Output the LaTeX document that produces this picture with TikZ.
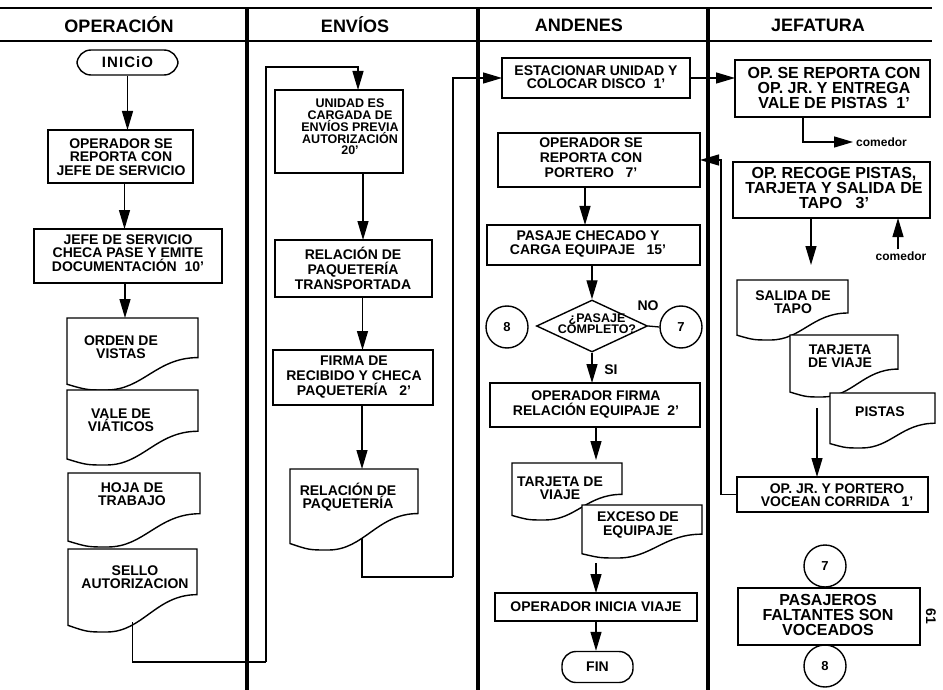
\documentclass[tikz,border=0pt]{standalone}
\usepackage{fontspec}
\setmainfont{Liberation Sans}
\usetikzlibrary{shapes.geometric,arrows.meta,calc}

\tikzset{
  lane/.style={line width=4pt},
  hline/.style={line width=2pt},
  hdr/.style={inner sep=0, font=\bfseries\fontsize{18}{20}\selectfont},
  boxline/.style={draw, line width=1.4pt, inner sep=0, outer sep=0},
  txt/.style={align=center, inner sep=0, font=\bfseries\fontsize{14}{13.3}\selectfont},
  txtl/.style={align=center, inner sep=0, font=\bfseries\fontsize{14}{15}\selectfont},
  ctxt/.style={align=center, inner sep=0, font=\bfseries\fontsize{12.5}{11.8}\selectfont},
  jtxt/.style={align=center, inner sep=0, font=\bfseries\fontsize{16}{15}\selectfont},
  dtxt/.style={align=center, inner sep=0, font=\bfseries\fontsize{12.5}{11}\selectfont},
  lbl/.style={inner sep=0, font=\bfseries\fontsize{14}{14}\selectfont},
  smalltxt/.style={inner sep=0, font=\bfseries\fontsize{12}{12}\selectfont},
  docnode/.style={inner sep=0, outer sep=0},
  docline/.style={draw, fill=white, line width=1.4pt},
  term/.style={draw, line width=1.4pt, inner sep=0, rounded corners=14pt, font=\bfseries\fontsize{14}{14}\selectfont},
  circ/.style={draw, circle, line width=1.4pt, inner sep=0, minimum size=42pt, font=\bfseries\fontsize{13}{13}\selectfont},
  decision/.style={draw, diamond, line width=1.4pt, inner sep=0},
  arr/.style={line width=1.3pt, -{Triangle[length=19pt,width=11pt]}},
  conn/.style={line width=1.3pt}
}

% box: name x0 y0 x1 y1 tx ty text style
\newcommand\bx[9]{%
  \node[boxline, minimum width={(#4-#2)*1pt}, minimum height={(#5-#3)*1pt}] (#1) at ({(#2+#4)/2},{(#3+#5)/2}) {};
  \node[#9] (#1-t) at (#6,#7) {#8};}

% document: name x0 y0 x1 y1 tx ty text style
\newcommand\dc[9]{%
  \node[docnode, minimum width={(#4-#2)*1pt}, minimum height={(#5-#3)*1pt}] (#1) at ({(#2+#4)/2},{(#3+#5)/2}) {};
  \draw[docline] let \p1=(#1.north west), \p2=(#1.south east), \n1={\x2-\x1}, \n2={\y1-\y2} in
    (\x1,\y1) -- (\x2,\y1) -- (\x2,{\y1-0.55*\n2})
    .. controls ({\x2-0.32*\n1},{\y1-0.55*\n2}) and ({\x1+0.58*\n1},\y2) .. ({\x1+0.3*\n1},\y2)
    .. controls ({\x1+0.15*\n1},\y2) .. (\x1,{\y2+0.08*\n2}) -- cycle;
  \node[#9] (#1-t) at (#6,#7) {#8};}

\begin{document}
\begin{tikzpicture}[x=1pt,y=-1pt]
\useasboundingbox (0,0) rectangle (943,690);
\fill[white] (0,0) rectangle (943,690);

% ---- swimlane frame ----
\draw[hline] (0,8) -- (932,8);
\draw[hline] (0,41) -- (932,41);
\draw[lane] (247,8) -- (247,690);
\draw[lane] (478,8) -- (478,690);
\draw[lane] (708,8) -- (708,690);
\node[hdr] (h1) at (119,25) {OPERACIÓN};
\node[hdr] (h2) at (355,25) {ENVÍOS};
\node[hdr] (h3) at (579,25) {ANDENES};
\node[hdr] (h4) at (818,25) {JEFATURA};

% ---- OPERACION ----
\node[term, minimum width=101pt, minimum height=25pt, font=\bfseries\fontsize{15}{15}\selectfont\addfontfeature{LetterSpace=7}] (inicio) at (127.5,62.5) {INICiO};
\bx{opreporta}{48}{130}{193}{183}{121}{157}{OPERADOR SE\\REPORTA CON\\JEFE DE SERVICIO}{txt}
\bx{jefe}{34}{229}{222}{283}{128}{253}{JEFE DE SERVICIO\\CHECA PASE Y EMITE\\DOCUMENTACIÓN~~10'}{txt}
\dc{orden}{67}{318}{198}{390}{121}{347}{ORDEN DE\\VISTAS}{txt}
\dc{vale}{67}{390}{198}{465}{121}{420}{VALE DE\\VIÁTICOS}{txt}
\dc{hoja}{68}{473}{200}{547}{132}{494}{HOJA DE\\TRABAJO}{txt}
\dc{sello}{68}{549}{197}{632}{135}{577}{SELLO\\AUTORIZACION}{txt}

\draw[arr] (inicio.south) -- (inicio.south |- opreporta.north);
\draw[arr] ([xshift=4pt]opreporta.south) -- ([xshift=4pt]opreporta.south |- jefe.north);
\draw[arr] ([xshift=-3pt]jefe.south) -- ([xshift=-3pt]jefe.south |- orden.north);

% ---- ENVIOS ----
\bx{unidad}{275}{90}{403}{173}{350}{127}{UNIDAD ES\\CARGADA DE\\ENVÍOS PREVIA\\AUTORIZACIÓN\\20'}{ctxt}
\bx{relacion}{275}{240}{432}{297}{353}{268}{RELACIÓN DE\\PAQUETERÍA\\TRANSPORTADA}{txtl}
\bx{firma}{273}{350}{433}{405}{354}{377}{FIRMA DE\\RECIBIDO Y CHECA\\PAQUETERÍA~~~2'}{txtl}
\dc{relpaq}{290}{469}{418}{550}{348}{497}{RELACIÓN DE\\PAQUETERÍA}{txt}

\coordinate (lpA) at (266,662);
\coordinate (lpB) at (358,67);
\draw[conn] ([yshift=10pt]sello.south) |- (lpA);
\draw[arr] (lpA) |- (lpB) -- (lpB |- unidad.north);

\draw[arr] ([xshift=24pt]unidad.south) -- ([xshift=24pt]unidad.south |- relacion.north);
\draw[arr] ([xshift=9pt]relacion.south) -- ([xshift=9pt]relacion.south |- firma.north);
\draw[arr] ([xshift=9pt]firma.south) -- ([xshift=9pt]firma.south |- relpaq.north);

% ---- ANDENES ----
\bx{estacionar}{502}{58}{690}{98}{596}{77}{ESTACIONAR UNIDAD Y\\COLOCAR DISCO~~1'}{txt}
\bx{portero}{498}{133}{700}{187}{591}{158}{OPERADOR SE\\REPORTA CON\\PORTERO~~~7'}{txtl}
\bx{pasaje}{487}{225}{700}{265}{588}{244}{PASAJE CHECADO Y\\CARGA EQUIPAJE~~~15'}{txt}
\node[decision, minimum width=111pt, minimum height=52pt] (dec) at (592,326) {};
\node[dtxt] (dec-t) at (597,324) {¿PASAJE\\COMPLETO?};
\node[circ] (c8a) at (507,327) {8};
\node[circ] (c7a) at (681,327) {7};
\node[lbl] (no) at (648,306) {NO};
\node[lbl] (si) at (611,370) {SI};
\bx{firma2}{490}{383}{700}{427}{596}{404}{OPERADOR FIRMA\\RELACIÓN EQUIPAJE~~2'}{txtl}
\dc{tarjA}{512}{463}{622}{520}{560}{488}{TARJETA DE\\VIAJE}{txt}
\dc{exceso}{582}{505}{702}{558}{638}{525}{EXCESO DE\\EQUIPAJE}{txt}
\bx{opinicia}{495}{593}{697}{621}{596}{607}{OPERADOR INICIA VIAJE}{txt}
\node[term, minimum width=71pt, minimum height=31pt] (fin) at (597.5,667) {FIN};

\coordinate (lqA) at (453,577);
\draw[conn] ([xshift=8pt,yshift=12pt]relpaq.south) |- (lqA);
\draw[arr] (lqA) |- (estacionar.west);

% ---- JEFATURA ----
\bx{opse}{735}{60}{930}{117}{834}{88}{OP. SE REPORTA CON\\OP. JR. Y ENTREGA\\VALE DE PISTAS~~1'}{jtxt}
\bx{recoge}{733}{162}{930}{218}{834}{188}{OP. RECOGE PISTAS,\\TARJETA Y SALIDA DE\\TAPO~~~3'}{jtxt}
\dc{salida}{737}{280}{848}{340}{793}{302}{SALIDA DE\\TAPO}{txt}
\dc{tarjB}{790}{335}{898}{397}{840}{356}{TARJETA\\DE VIAJE}{txt}
\dc{pistas}{830}{393}{935}{448}{880}{412}{PISTAS}{txt}
\bx{opjr}{737}{477}{928}{512}{837}{495}{OP. JR. Y PORTERO\\VOCEAN CORRIDA~~~1'}{txt}
\node[circ] (c7b) at (825,566) {7};
\bx{pasajeros}{738}{588}{920}{645}{828}{615}{PASAJEROS\\FALTANTES SON\\VOCEADOS}{jtxt}
\node[circ] (c8b) at (825,666) {8};
\node[lbl, rotate=-90] (pgnum) at (931,616) {61};

\draw[arr] (estacionar.east) -- (estacionar.east -| opse.west);
\draw[arr] ([xshift=-14pt]portero.south) -- ([xshift=-14pt]portero.south |- pasaje.north);
\draw[arr] (pasaje.south -| dec.north) -- (dec.north);
\draw[conn] (dec.east) -- (c7a.west);
\draw[arr] (dec.south) -- (dec.south |- firma2.north);
\draw[arr] ([xshift=1pt]firma2.south) -- ([xshift=1pt,yshift=3pt]firma2.south |- tarjA.north);
\coordinate (exA) at (596,563);
\draw[arr] (exA) -- (exA |- opinicia.north);
\draw[arr] (opinicia.south) -- (opinicia.south |- fin.north);

\coordinate (cm1) at (853,142);
\draw[arr] ([xshift=-29.5pt]opse.south) |- (cm1);
\node[smalltxt, anchor=west] (com1) at ([xshift=3pt]cm1) {comedor};
\coordinate (rgA) at (811,265);
\draw[arr] (recoge.south -| rgA) -- (rgA);
\node[smalltxt] (com2) at (901,256) {comedor};
\draw[arr] ([xshift=-3pt,yshift=2pt]com2.north) -- ([xshift=-3pt]com2.north |- recoge.south);
\coordinate (psA) at (817,408);
\draw[arr] (psA) -- (psA |- opjr.north);
\coordinate (lr) at (721,495);
\draw[arr] (opjr.west) -| (lr |- portero.east) -- (portero.east);
\end{tikzpicture}
\end{document}
